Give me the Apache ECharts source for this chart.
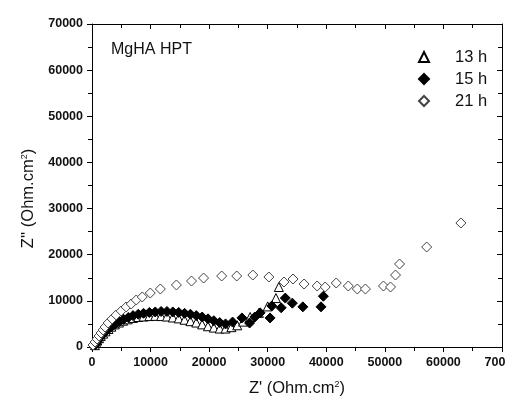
<!DOCTYPE html>
<html><head><meta charset="utf-8">
<script src="https://cdn.jsdelivr.net/npm/echarts@6/dist/echarts.min.js"></script>
<style>html,body{margin:0;padding:0;background:#fff}#c{width:505px;height:406px}</style>
</head><body><div id="c"></div>
<script>
var seriesNames = ['13 h', '15 h', '21 h'];
var x13 = [500,700,900,1200,1500,1900,2300,2800,3300,3900,4600,5300,6100,7000,7900,8800,9800,10800,11800,12800,13800,14800,15800,16800,17800,18800,19800,20800,21800,22800,23800,24800,25800,27000,28500,30000,31400,31900];
var y13 = [400,900,1400,1900,2400,2900,3400,3900,4400,4900,5300,5700,6000,6300,6500,6600,6700,6750,6700,6600,6400,6200,5900,5600,5300,4900,4500,4200,4000,4000,4300,4700,5500,6500,7400,8800,10600,13000];
var x15 = [600,800,1000,1300,1600,2000,2400,2900,3400,4000,4700,5400,6200,7000,7900,8800,9800,10800,11800,12800,13800,14800,15800,16800,17800,18800,19800,20800,21800,22800,24000,25600,26900,27800,28700,30400,30700,32300,33000,34200,36000,39100,39500];
var y15 = [500,1000,1500,2000,2500,3000,3500,4000,4500,5000,5500,6000,6400,6800,7100,7300,7500,7600,7700,7700,7600,7500,7300,7100,6800,6500,6100,5700,5300,5000,5400,6300,5200,6500,7400,6300,8900,8500,10600,9500,8700,8700,11000];
var x21 = [170,520,860,1200,1540,1890,2230,2750,3430,4120,4980,5830,6690,7550,8580,9950,11670,14410,16990,19050,22140,24710,27460,30200,32770,34320,36210,38440,39810,41700,43760,45300,46680,49760,50970,51820,52510,57140,62980];
var y21 = [430,1080,1730,2380,3030,3680,4330,5200,6070,6930,7800,8670,9320,10190,10840,11700,12570,13440,14300,14950,15390,15390,15600,15170,14080,14740,13650,13220,13000,13870,13220,12570,12570,13220,13000,15600,17990,21670,26870];
var xTicks = [0,10000,20000,30000,40000,50000,60000,70000];
var yTicks = [0,10000,20000,30000,40000,50000,60000,70000];

function zip(a, b) { return a.map(function (v, i) { return [v, b[i]]; }); }

var font = 'Liberation Sans, Arial, sans-serif';
var chart = echarts.init(document.getElementById('c'));
function baseAxis(pos, isX, inside, show) {
  var ticks = isX ? xTicks : yTicks;
  return {
    type: 'value', position: pos, min: ticks[0], max: ticks[ticks.length - 1], interval: 10000,
    axisLine: { show: true, onZero: false, lineStyle: { color: '#000', width: 1 } },
    axisTick: { show: true, inside: inside, length: 5, lineStyle: { color: '#000' } },
    minorTick: { show: true, splitNumber: 2, length: 4, lineStyle: { color: '#000' } },
    splitLine: { show: false },
    axisLabel: { show: show, color: '#111', fontFamily: font, fontSize: 12.5, fontWeight: 'bold', margin: 9,
      hideOverlap: false, formatter: function (v) { return String(v); } }
  };
}
var supStyle = { fontSize: 9, verticalAlign: 'top', fontFamily: font, color: '#111' };
var xB = baseAxis('bottom', true, false, true);
xB.name = "Z' (Ohm.cm{sup|2})";
xB.nameLocation = 'middle';
xB.nameGap = 33;
xB.nameTextStyle = { color: '#111', fontFamily: font, fontSize: 16.5, rich: { sup: supStyle } };
var xT = baseAxis('top', true, true, false);
var yL = baseAxis('left', false, false, true);
yL.name = "Z'' (Ohm.cm{sup|2})";
yL.nameLocation = 'middle';
yL.nameGap = 47;
yL.nameTextStyle = { color: '#111', fontFamily: font, fontSize: 16.5, padding: [0, 26, 0, 0], rich: { sup: supStyle } };
var yR = baseAxis('right', false, true, false);

chart.setOption({
  animation: false,
  backgroundColor: '#fff',
  grid: { left: 92, right: 3, top: 24, bottom: 59, containLabel: false, outerBoundsMode: 'none' },
  xAxis: [xB, xT],
  yAxis: [yL, yR],
  legend: {
    orient: 'vertical', left: 413, top: 43, itemWidth: 10, itemHeight: 10, itemGap: 4,
    textStyle: { color: '#111', fontFamily: font, fontSize: 16.5, lineHeight: 18, padding: [0, 0, 0, 21] },
    data: seriesNames
  },
  graphic: [{ type: 'text', left: 111, top: 42, style: { text: 'MgHA HPT', font: '16px ' + font, fill: '#111' } }],
  series: [
    { name: seriesNames[0], type: 'scatter', symbol: 'triangle', symbolSize: 9, data: zip(x13, y13),
      itemStyle: { color: '#fff', borderColor: '#000', borderWidth: 1, opacity: 1 } },
    { name: seriesNames[1], type: 'scatter', symbol: 'diamond', symbolSize: 10, data: zip(x15, y15),
      itemStyle: { color: '#000', borderColor: '#000', borderWidth: 1, opacity: 1 } },
    { name: seriesNames[2], type: 'scatter', symbol: 'diamond', symbolSize: 10, data: zip(x21, y21),
      itemStyle: { color: '#fff', borderColor: '#444', borderWidth: 1, opacity: 1 } }
  ]
});
</script></body></html>
